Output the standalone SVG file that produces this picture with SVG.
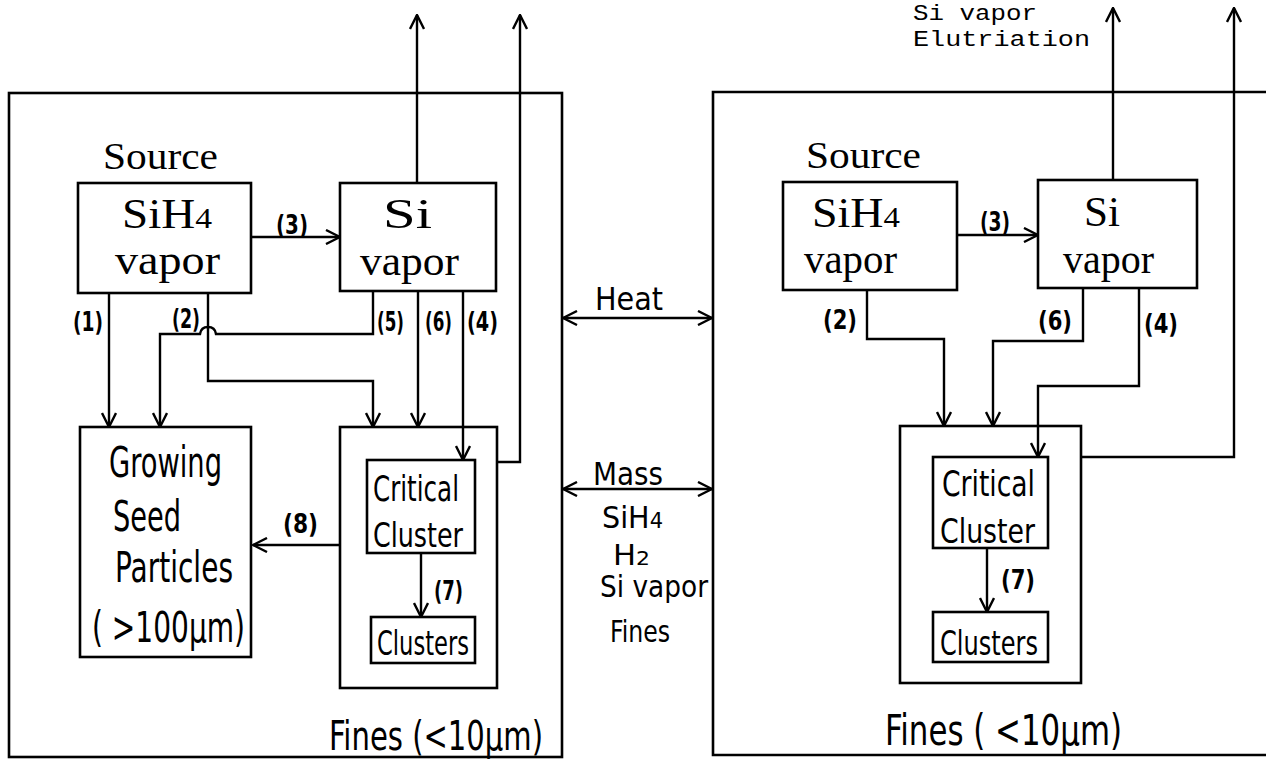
<svg xmlns="http://www.w3.org/2000/svg" width="1266" height="760" viewBox="0 0 1266 760">
<style>
.box{fill:none;stroke:#000;stroke-width:2.6}
.ln{fill:none;stroke:#000;stroke-width:2.4}
.arw{marker-end:url(#arr)}
.hs{font-family:"Liberation Serif","DejaVu Serif",serif;fill:#000}
.hn{font-family:"Liberation Sans Narrow","DejaVu Sans Condensed","Liberation Sans",sans-serif;fill:#000}
.lb{font-family:"Liberation Sans Narrow","DejaVu Sans Condensed","Liberation Sans",sans-serif;font-weight:bold;font-size:26px;fill:#000}
.mono{font-family:"Liberation Mono","DejaVu Sans Mono",monospace;font-size:22px;fill:#000}
</style>
<defs>
<marker id="arr" viewBox="0 0 16 16" refX="15" refY="8" markerWidth="16" markerHeight="16" orient="auto-start-reverse" markerUnits="userSpaceOnUse">
<path d="M1,1 L15,8 L1,15" fill="none" stroke="#000" stroke-width="2.4"/>
</marker>
</defs>
<rect width="1266" height="760" fill="#fff"/>

<!-- panels -->
<g id="left-panel">
<rect class="box" x="9" y="93" width="553" height="664"/>
<text class="hn" x="329" y="750" font-size="40" textLength="214" lengthAdjust="spacingAndGlyphs">Fines (&lt;10μm)</text>
</g>
<g id="right-panel">
<path class="box" d="M1266,92 H713 V755 H1266"/>
<text class="hn" x="885" y="745" font-size="42" textLength="237" lengthAdjust="spacingAndGlyphs">Fines ( &lt;10μm)</text>
</g>

<!-- left nodes -->
<g id="L-sih4">
<text class="hs" x="103" y="169" font-size="38" textLength="115" lengthAdjust="spacingAndGlyphs">Source</text>
<rect class="box" x="78" y="183" width="173" height="110"/>
<text class="hs" x="122" y="228" font-size="42" textLength="90" lengthAdjust="spacingAndGlyphs">SiH<tspan font-size="30">4</tspan></text>
<text class="hs" x="115" y="274" font-size="42" textLength="105" lengthAdjust="spacingAndGlyphs">vapor</text>
</g>
<g id="L-si">
<rect class="box" x="340" y="183" width="156" height="108"/>
<text class="hs" x="383" y="228" font-size="42" textLength="49" lengthAdjust="spacingAndGlyphs">Si</text>
<text class="hs" x="360" y="275" font-size="42" textLength="99" lengthAdjust="spacingAndGlyphs">vapor</text>
</g>
<g id="L-growing">
<rect class="box" x="80" y="427" width="171" height="230"/>
<text class="hn" x="109" y="477" font-size="42" textLength="113" lengthAdjust="spacingAndGlyphs">Growing</text>
<text class="hn" x="113" y="531" font-size="42" textLength="68" lengthAdjust="spacingAndGlyphs">Seed</text>
<text class="hn" x="115" y="582" font-size="42" textLength="118" lengthAdjust="spacingAndGlyphs">Particles</text>
<text class="hn" x="92" y="642" font-size="42" textLength="153" lengthAdjust="spacingAndGlyphs">( &gt;100μm)</text>
</g>
<g id="L-fines">
<rect class="box" x="340" y="427" width="157" height="261"/>
</g>
<g id="L-critical">
<rect class="box" x="367" y="460" width="108" height="93"/>
<text class="hn" x="373" y="501" font-size="36" textLength="86" lengthAdjust="spacingAndGlyphs">Critical</text>
<text class="hn" x="373" y="547" font-size="34" textLength="90" lengthAdjust="spacingAndGlyphs">Cluster</text>
</g>
<g id="L-clusters">
<rect class="box" x="371" y="617" width="104" height="46"/>
<text class="hn" x="377" y="655" font-size="34" textLength="92" lengthAdjust="spacingAndGlyphs">Clusters</text>
</g>

<!-- right nodes -->
<g id="R-sih4">
<text class="hs" x="806" y="168" font-size="38" textLength="115" lengthAdjust="spacingAndGlyphs">Source</text>
<rect class="box" x="783" y="182" width="174" height="108"/>
<text class="hs" x="812" y="227" font-size="42" textLength="88" lengthAdjust="spacingAndGlyphs">SiH<tspan font-size="30">4</tspan></text>
<text class="hs" x="804" y="273" font-size="42" textLength="93" lengthAdjust="spacingAndGlyphs">vapor</text>
</g>
<g id="R-si">
<rect class="box" x="1038" y="180" width="159" height="108"/>
<text class="hs" x="1084" y="226" font-size="42" textLength="36" lengthAdjust="spacingAndGlyphs">Si</text>
<text class="hs" x="1063" y="273" font-size="42" textLength="91" lengthAdjust="spacingAndGlyphs">vapor</text>
</g>
<g id="R-fines">
<rect class="box" x="900" y="426" width="181" height="257"/>
</g>
<g id="R-critical">
<rect class="box" x="933" y="457" width="115" height="91"/>
<text class="hn" x="942" y="496" font-size="36" textLength="93" lengthAdjust="spacingAndGlyphs">Critical</text>
<text class="hn" x="940" y="543" font-size="34" textLength="95" lengthAdjust="spacingAndGlyphs">Cluster</text>
</g>
<g id="R-clusters">
<rect class="box" x="933" y="612" width="115" height="50"/>
<text class="hn" x="940" y="655" font-size="34" textLength="98" lengthAdjust="spacingAndGlyphs">Clusters</text>
</g>

<!-- middle exchange labels -->
<g id="exchange">
<text class="hn" x="595" y="310" font-size="32" textLength="68" lengthAdjust="spacingAndGlyphs">Heat</text>
<text class="hn" x="593" y="485" font-size="32" textLength="70" lengthAdjust="spacingAndGlyphs">Mass</text>
<text class="hn" x="602" y="528" font-size="30" textLength="61" lengthAdjust="spacingAndGlyphs">SiH<tspan font-size="22">4</tspan></text>
<text class="hn" x="613" y="565" font-size="28" textLength="37" lengthAdjust="spacingAndGlyphs">H<tspan font-size="20">2</tspan></text>
<text class="hn" x="600" y="597" font-size="30" textLength="108" lengthAdjust="spacingAndGlyphs">Si vapor</text>
<text class="hn" x="610" y="642" font-size="30" textLength="60" lengthAdjust="spacingAndGlyphs">Fines</text>
</g>

<g id="top-label">
<text class="mono" x="913" y="20" textLength="124" lengthAdjust="spacingAndGlyphs">Si vapor</text>
<text class="mono" x="913" y="46" textLength="177" lengthAdjust="spacingAndGlyphs">Elutriation</text>
</g>

<!-- connectors -->
<g id="connectors">
<!-- left -->
<path class="ln arw" d="M251,237 H340"/>
<path class="ln arw" d="M417,183 V15"/>
<path class="ln arw" d="M497,462 H520 V15"/>
<path class="ln arw" d="M109,293 V427"/>
<path class="ln arw" d="M208,293 V381 H373 V427"/>
<path class="ln arw" d="M373,291 V334 H216 Q215,327 208,327 Q201,327 200,334 H160 V427"/>
<path class="ln arw" d="M418,291 V427"/>
<path class="ln arw" d="M463,291 V460"/>
<path class="ln arw" d="M340,545 H253"/>
<path class="ln arw" d="M421,553 V617"/>
<!-- middle -->
<path class="ln" d="M563,318 H712" marker-start="url(#arr)" marker-end="url(#arr)"/>
<path class="ln" d="M563,489 H712" marker-start="url(#arr)" marker-end="url(#arr)"/>
<!-- right -->
<path class="ln arw" d="M957,235 H1038"/>
<path class="ln arw" d="M1113,180 V8"/>
<path class="ln arw" d="M1081,457 H1234 V8"/>
<path class="ln arw" d="M867,290 V339 H944 V426"/>
<path class="ln arw" d="M1083,288 V341 H993 V426"/>
<path class="ln arw" d="M1139,288 V386 H1038 V457"/>
<path class="ln arw" d="M987,548 V612"/>
</g>

<g id="connector-labels">
<text class="lb" x="276" y="234" textLength="32" lengthAdjust="spacingAndGlyphs">(3)</text>
<text class="lb" x="73" y="331" textLength="30" lengthAdjust="spacingAndGlyphs">(1)</text>
<text class="lb" x="172" y="328" textLength="28" lengthAdjust="spacingAndGlyphs">(2)</text>
<text class="lb" x="377" y="331" textLength="27" lengthAdjust="spacingAndGlyphs">(5)</text>
<text class="lb" x="425" y="331" textLength="27" lengthAdjust="spacingAndGlyphs">(6)</text>
<text class="lb" x="467" y="331" textLength="31" lengthAdjust="spacingAndGlyphs">(4)</text>
<text class="lb" x="283" y="533" font-size="28" textLength="35" lengthAdjust="spacingAndGlyphs">(8)</text>
<text class="lb" x="434" y="600" font-size="22" textLength="29" lengthAdjust="spacingAndGlyphs">(7)</text>
<text class="lb" x="980" y="231" textLength="30" lengthAdjust="spacingAndGlyphs">(3)</text>
<text class="lb" x="823" y="329" font-size="28" textLength="34" lengthAdjust="spacingAndGlyphs">(2)</text>
<text class="lb" x="1038" y="330" font-size="28" textLength="34" lengthAdjust="spacingAndGlyphs">(6)</text>
<text class="lb" x="1144" y="333" font-size="28" textLength="34" lengthAdjust="spacingAndGlyphs">(4)</text>
<text class="lb" x="1001" y="589" font-size="26" textLength="34" lengthAdjust="spacingAndGlyphs">(7)</text>
</g>
</svg>
